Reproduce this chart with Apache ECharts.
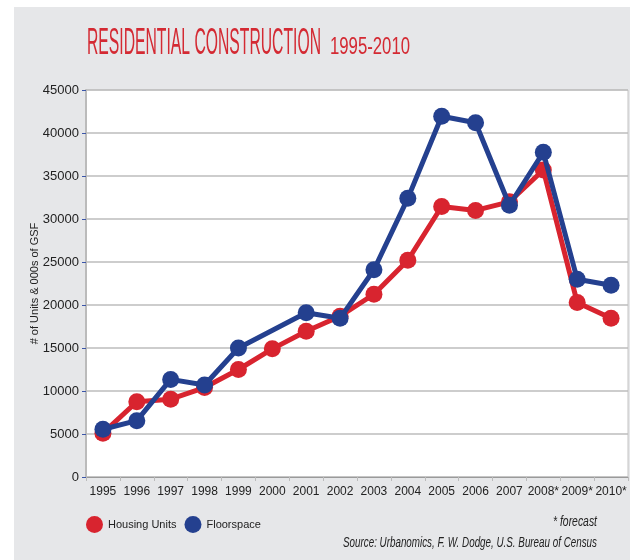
<!DOCTYPE html>
<html>
<head>
<meta charset="utf-8">
<script src="https://cdn.jsdelivr.net/npm/echarts@6/dist/echarts.min.js"></script>
<style>
  html, body { margin: 0; padding: 0; background: #fff; }
  #chart { width: 630px; height: 560px; }
</style>
</head>
<body>
<div id="chart"></div>
<script>
// data
const years = ['1995', '1996', '1997', '1998', '1999', '2000', '2001', '2002',
  '2003', '2004', '2005', '2006', '2007', '2008*', '2009*', '2010*']
const housingUnits = [5100, 8750, 9050, 10400, 12500, 14900, 16950, 18700,
  21250, 25200, 31450, 31000, 32000, 35700, 20300, 18450]
// no floorspace point for 2000, the line just joins 1999 to 2001
const floorspace = [5550, 6550, 11350, 10700, 15000, null, 19100, 18450,
  24100, 32400, 41950, 41200, 31600, 37750, 23000, 22300]

const red = '#d8242f'
const blue = '#24408f'
const sans = '"Liberation Sans", Arial, sans-serif'

// the original uses a condensed face; squeeze the free text to its width
const measure = document.createElement('canvas').getContext('2d')
function squeeze (text, font, width) {
  measure.font = font
  return width / measure.measureText(text).width
}
function narrowText (text, font, x, y, width, fill, align) {
  return {
    type: 'text',
    x: x,
    y: y,
    scaleX: squeeze(text, font, width),
    style: { text: text, font: font, fill: fill, align: align || 'left', verticalAlign: 'middle' }
  }
}

const titleFont = '37px ' + sans
const subFont = '24px ' + sans
const noteFont = 'italic 15px ' + sans

const chart = echarts.init(document.getElementById('chart'))

chart.setOption({
  animation: false,
  backgroundColor: '#fff',
  graphic: [
    // gray panel behind everything
    { type: 'rect', z: -10, shape: { x: 14, y: 7, width: 616, height: 553 }, style: { fill: '#e6e7e9' } },
    narrowText('RESIDENTIAL CONSTRUCTION', titleFont, 87, 44, 234, '#d42a33'),
    narrowText('1995-2010', subFont, 330, 47, 80, '#d42a33'),
    narrowText('* forecast', noteFont, 597, 522, 44, '#222', 'right'),
    narrowText('Source: Urbanomics, F. W. Dodge, U.S. Bureau of Census', noteFont, 597, 543, 254, '#222', 'right')
  ],
  legend: {
    left: 81,
    top: 511,
    icon: 'circle',
    itemWidth: 17,
    itemHeight: 17,
    itemGap: 8,
    textStyle: { fontFamily: sans, fontSize: 11, color: '#222' },
    data: ['Housing Units', 'Floorspace']
  },
  grid: {
    left: 86,
    right: 2,
    top: 90,
    bottom: 83,
    show: true,
    backgroundColor: '#fff',
    borderColor: '#c4c4c4',
    borderWidth: 1
  },
  xAxis: {
    type: 'category',
    data: years,
    boundaryGap: true,
    axisLine: { lineStyle: { color: '#9a9a9a', width: 1 } },
    axisTick: { show: true, interval: 0, length: 4, lineStyle: { color: '#bbb' } },
    axisLabel: { interval: 0, color: '#222', fontFamily: sans, fontSize: 12, margin: 9 }
  },
  yAxis: {
    type: 'value',
    min: 0,
    max: 45000,
    interval: 5000,
    name: '# of Units & 000s of GSF',
    nameLocation: 'middle',
    nameRotate: 90,
    nameGap: 46,
    nameMoveOverlap: false,
    nameTextStyle: { color: '#222', fontFamily: sans, fontSize: 11 },
    axisLine: { show: true, lineStyle: { color: '#bbb', width: 2 } },
    axisTick: { show: true, length: 4, lineStyle: { color: '#3a55a8' } },
    axisLabel: { color: '#222', fontFamily: sans, fontSize: 13, margin: 7, formatter: v => String(v) },
    splitLine: { lineStyle: { color: '#bdbdbd', width: 1.5 } }
  },
  series: [
    {
      name: 'Housing Units',
      type: 'line',
      data: housingUnits,
      symbol: 'circle',
      symbolSize: 17,
      color: red,
      lineStyle: { width: 5, color: red },
      itemStyle: { color: red },
      z: 2
    },
    {
      name: 'Floorspace',
      type: 'line',
      data: floorspace,
      connectNulls: true,
      symbol: 'circle',
      symbolSize: 17,
      color: blue,
      lineStyle: { width: 5, color: blue },
      itemStyle: { color: blue },
      z: 3
    }
  ]
})
</script>
</body>
</html>
